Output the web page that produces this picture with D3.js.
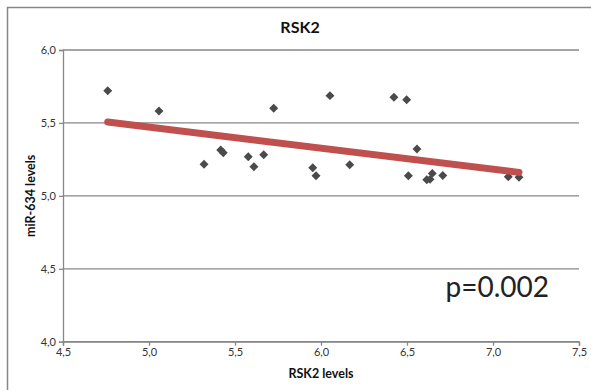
<!DOCTYPE html>
<html><head><meta charset="utf-8">
<script src="https://cdn.jsdelivr.net/npm/d3@7"></script>
<style>
html,body{margin:0;padding:0;background:#fff;}
svg{display:block;font-family:Lato,"Open Sans",sans-serif;}
</style></head>
<body>
<svg id="c" width="591" height="390"></svg>
<script>
const title = "RSK2";
const xLabel = "RSK2 levels";
const yLabel = "miR-634 levels";
const pText = "p=0.002";
const xTicks = [4.5, 5.0, 5.5, 6.0, 6.5, 7.0, 7.5];
const yTicks = [4.0, 4.5, 5.0, 5.5, 6.0];
const rsk2 = [4.76,5.058,5.32,5.417,5.432,5.577,5.61,5.667,5.725,5.952,5.971,6.052,6.167,6.424,6.498,6.558,6.508,6.615,6.634,6.647,6.708,7.089,7.151];
const mir634 = [5.72,5.582,5.216,5.314,5.296,5.268,5.20,5.282,5.60,5.193,5.138,5.687,5.213,5.676,5.659,5.321,5.138,5.11,5.113,5.154,5.14,5.131,5.127];
const trendX = [4.76, 7.151];
const trendY = [5.506, 5.161];

const svg = d3.select("#c");
const fmt = v => d3.format(".1f")(v).replace(".", ",");
const x = d3.scaleLinear().domain([4.5, 7.5]).range([63, 579]);
const y = d3.scaleLinear().domain([4.0, 6.0]).range([341.7, 50]);
const gray = "#878787";

// outer border
svg.append("path").attr("d", "M7.5,400 V7.5 H600").attr("fill", "none").attr("stroke", gray).attr("stroke-width", 1.5);

// gridlines
svg.append("g").selectAll("line").data(yTicks).join("line")
  .attr("x1", x(4.5)).attr("x2", x(7.5))
  .attr("y1", d => y(d)).attr("y2", d => y(d))
  .attr("stroke", gray).attr("stroke-width", 1.3);

// axes
const yAxis = svg.append("g").attr("transform", `translate(${x(4.5)},0)`)
  .call(d3.axisLeft(y).tickValues(yTicks).tickFormat(fmt).tickSize(4).tickPadding(3));
const xAxis = svg.append("g").attr("transform", `translate(0,${y(4.0)})`)
  .call(d3.axisBottom(x).tickValues(xTicks).tickFormat(fmt).tickSize(4).tickPadding(3));
[xAxis, yAxis].forEach(a => {
  a.select(".domain").attr("stroke", gray).attr("stroke-width", 1.3);
  a.selectAll(".tick line").attr("stroke", gray).attr("stroke-width", 1.3);
  a.selectAll(".tick text").attr("fill", "#333").style("font-size", "11px").style("font-family", "Lato, 'Open Sans', sans-serif");
});

// points
const pts = rsk2.map((v, i) => [v, mir634[i]]);
const diamond = d3.symbol().type(d3.symbolSquare).size(40);
svg.append("g").selectAll("path").data(pts).join("path")
  .attr("d", diamond)
  .attr("transform", d => `translate(${x(d[0])},${y(d[1])}) rotate(45)`)
  .attr("fill", "#4a4a4a");

// trend line
const tl = trendX.map((v, i) => [v, trendY[i]]);
svg.append("path").datum(tl)
  .attr("d", d3.line().x(d => x(d[0])).y(d => y(d[1])))
  .attr("fill", "none").attr("stroke", "#c0504d").attr("stroke-width", 7).attr("stroke-linecap", "round");

// texts
svg.append("text").attr("x", 300).attr("y", 33).attr("text-anchor", "middle")
  .style("font-size", "16px").style("font-weight", "bold").attr("fill", "#111").text(title);
svg.append("text").attr("x", 321).attr("y", 378).attr("text-anchor", "middle")
  .style("font-size", "12.5px").style("font-weight", "bold").attr("fill", "#111").text(xLabel);
svg.append("text").attr("transform", `translate(35,${y(5.0)}) rotate(-90)`).attr("text-anchor", "middle")
  .style("font-size", "12.5px").style("font-weight", "bold").attr("fill", "#111").text(yLabel);
svg.append("text").attr("x", 549).attr("y", 297).attr("text-anchor", "end")
  .style("font-size", "28px").attr("fill", "#222").text(pText);
</script>
</body></html>
